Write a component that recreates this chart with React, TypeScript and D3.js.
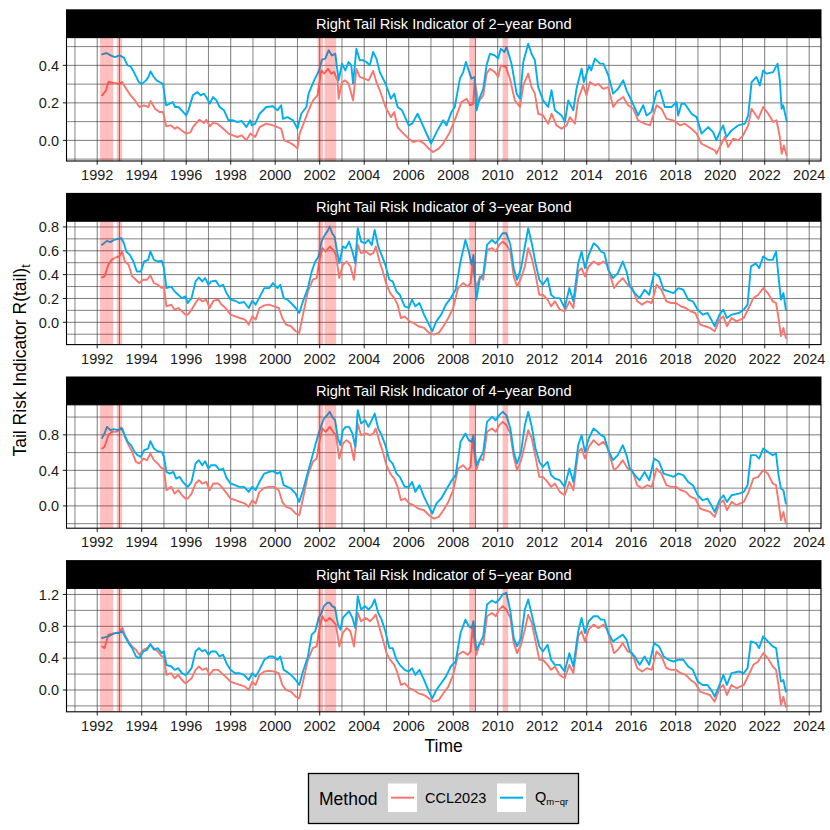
import React from "react";
import * as d3 from "d3";

// ---------------- data ----------------
const panelTitles = [
  "Right Tail Risk Indicator of 2−year Bond",
  "Right Tail Risk Indicator of 3−year Bond",
  "Right Tail Risk Indicator of 4−year Bond",
  "Right Tail Risk Indicator of 5−year Bond",
];

const xMajorTicks = [1992, 1994, 1996, 1998, 2000, 2002, 2004, 2006, 2008, 2010, 2012, 2014, 2016, 2018, 2020, 2022, 2024];
const xMinorTicks = [1991, 1993, 1995, 1997, 1999, 2001, 2003, 2005, 2007, 2009, 2011, 2013, 2015, 2017, 2019, 2021, 2023];
const xDomain = [1990.62, 2024.53];

const yDomains = [
  [-0.11, 0.548],
  [-0.187, 0.848],
  [-0.251, 1.138],
  [-0.274, 1.276],
];
const yMajorTicks = [
  [0, 0.2, 0.4],
  [0, 0.2, 0.4, 0.6, 0.8],
  [0, 0.4, 0.8],
  [0, 0.4, 0.8, 1.2],
];
const yMinorTicks = [
  [-0.1, 0.1, 0.3, 0.5],
  [-0.1, 0.1, 0.3, 0.5, 0.7],
  [-0.2, 0.2, 0.6, 1.0],
  [-0.2, 0.2, 0.6, 1.0],
];

const shadedBands = [
  [1992.13, 1992.72],
  [1992.88, 1993.12],
  [2001.9, 2002.15],
  [2002.22, 2002.74],
  [2008.72, 2009.0],
  [2010.22, 2010.47],
];

const methodNames = ["CCL2023", "Qm−qr"];
const methodColors = ["#F8766D", "#00AEEF"];

// 2-year bond
const ccl2y = [[1992.22,0.24],[1992.4,0.267],[1992.5,0.311],[1992.7,0.307],[1992.98,0.302],[1993.12,0.311],[1993.3,0.275],[1993.5,0.24],[1993.7,0.213],[1993.9,0.178],[1994.1,0.187],[1994.3,0.178],[1994.4,0.21],[1994.6,0.169],[1994.8,0.151],[1994.96,0.151],[1995.1,0.075],[1995.3,0.08],[1995.5,0.062],[1995.6,0.071],[1995.8,0.053],[1996.0,0.036],[1996.2,0.044],[1996.3,0.071],[1996.5,0.098],[1996.6,0.11],[1996.8,0.093],[1996.9,0.11],[1997.06,0.075],[1997.2,0.093],[1997.4,0.089],[1997.67,0.062],[1997.9,0.036],[1998.1,0.027],[1998.3,0.018],[1998.5,0.027],[1998.7,0.0],[1998.88,0.036],[1999.1,0.018],[1999.3,0.071],[1999.6,0.089],[1999.9,0.08],[2000.1,0.071],[2000.27,0.062],[2000.4,0.0],[2000.6,-0.009],[2000.85,-0.027],[2001.0,-0.044],[2001.1,0.036],[2001.3,0.098],[2001.5,0.16],[2001.7,0.213],[2001.9,0.24],[2002.07,0.373],[2002.2,0.356],[2002.37,0.382],[2002.52,0.356],[2002.65,0.364],[2002.8,0.32],[2002.85,0.222],[2003.0,0.311],[2003.15,0.32],[2003.3,0.302],[2003.5,0.213],[2003.65,0.382],[2003.8,0.338],[2004.0,0.329],[2004.2,0.32],[2004.4,0.37],[2004.55,0.311],[2004.7,0.267],[2004.96,0.178],[2005.2,0.124],[2005.35,0.151],[2005.5,0.071],[2005.7,0.044],[2006.0,0.009],[2006.2,-0.009],[2006.45,0.0],[2006.7,-0.017],[2006.9,-0.044],[2007.1,-0.062],[2007.35,-0.044],[2007.55,-0.017],[2007.85,0.044],[2008.15,0.133],[2008.37,0.204],[2008.6,0.222],[2008.75,0.187],[2008.9,0.196],[2008.97,0.32],[2009.12,0.204],[2009.35,0.24],[2009.5,0.356],[2009.65,0.382],[2009.87,0.364],[2010.02,0.338],[2010.14,0.4],[2010.37,0.391],[2010.55,0.329],[2010.77,0.213],[2011.0,0.178],[2011.15,0.293],[2011.37,0.356],[2011.52,0.284],[2011.67,0.249],[2011.82,0.142],[2012.04,0.133],[2012.27,0.089],[2012.42,0.142],[2012.64,0.08],[2012.87,0.062],[2013.1,0.08],[2013.24,0.124],[2013.47,0.089],[2013.62,0.222],[2013.84,0.293],[2013.99,0.24],[2014.14,0.311],[2014.37,0.293],[2014.52,0.302],[2014.74,0.275],[2014.97,0.284],[2015.19,0.178],[2015.41,0.213],[2015.64,0.231],[2015.86,0.187],[2016.09,0.169],[2016.31,0.107],[2016.61,0.089],[2016.84,0.08],[2017.14,0.187],[2017.36,0.169],[2017.59,0.115],[2017.89,0.107],[2018.19,0.08],[2018.41,0.089],[2018.71,0.062],[2018.94,0.036],[2019.16,-0.018],[2019.46,-0.036],[2019.76,-0.053],[2019.83,-0.071],[2020.06,-0.018],[2020.21,0.018],[2020.36,-0.036],[2020.58,0.009],[2020.81,0.0],[2021.03,0.027],[2021.26,0.08],[2021.41,0.169],[2021.71,0.115],[2021.93,0.178],[2022.16,0.142],[2022.38,0.098],[2022.53,0.107],[2022.68,0.018],[2022.76,-0.071],[2022.86,-0.027],[2022.98,-0.08]];
const qmqr2y = [[1992.22,0.459],[1992.42,0.466],[1992.6,0.453],[1992.8,0.444],[1993.0,0.453],[1993.2,0.441],[1993.36,0.4],[1993.5,0.395],[1993.65,0.364],[1993.87,0.311],[1994.0,0.3],[1994.2,0.32],[1994.3,0.338],[1994.4,0.368],[1994.52,0.342],[1994.67,0.32],[1994.8,0.311],[1994.96,0.3],[1995.04,0.231],[1995.1,0.187],[1995.4,0.204],[1995.5,0.178],[1995.65,0.178],[1995.8,0.16],[1996.0,0.133],[1996.1,0.16],[1996.3,0.24],[1996.5,0.258],[1996.65,0.24],[1996.8,0.249],[1996.9,0.231],[1997.06,0.196],[1997.2,0.231],[1997.36,0.213],[1997.5,0.178],[1997.7,0.16],[1997.9,0.107],[1998.1,0.107],[1998.3,0.098],[1998.5,0.103],[1998.7,0.071],[1998.88,0.107],[1998.95,0.08],[1999.1,0.089],[1999.3,0.142],[1999.6,0.178],[1999.9,0.182],[2000.1,0.16],[2000.27,0.187],[2000.35,0.115],[2000.55,0.124],[2000.8,0.107],[2001.0,0.062],[2001.17,0.142],[2001.4,0.178],[2001.5,0.249],[2001.75,0.32],[2001.97,0.373],[2002.1,0.43],[2002.25,0.436],[2002.4,0.48],[2002.55,0.453],[2002.7,0.462],[2002.85,0.32],[2003.0,0.409],[2003.15,0.373],[2003.3,0.418],[2003.42,0.4],[2003.5,0.302],[2003.65,0.489],[2003.8,0.427],[2003.95,0.427],[2004.1,0.418],[2004.25,0.4],[2004.4,0.471],[2004.55,0.436],[2004.7,0.364],[2004.96,0.302],[2005.2,0.222],[2005.35,0.249],[2005.5,0.178],[2005.7,0.16],[2006.0,0.08],[2006.15,0.089],[2006.4,0.142],[2006.6,0.089],[2006.87,0.018],[2007.0,-0.017],[2007.25,0.044],[2007.55,0.107],[2007.7,0.08],[2007.92,0.151],[2008.07,0.178],[2008.3,0.329],[2008.45,0.364],[2008.57,0.418],[2008.72,0.364],[2008.82,0.329],[2008.97,0.338],[2009.05,0.16],[2009.2,0.231],[2009.35,0.275],[2009.5,0.4],[2009.65,0.462],[2009.87,0.453],[2010.02,0.436],[2010.14,0.489],[2010.3,0.471],[2010.4,0.498],[2010.62,0.409],[2010.85,0.249],[2011.0,0.222],[2011.15,0.418],[2011.37,0.515],[2011.52,0.462],[2011.67,0.427],[2011.82,0.284],[2012.04,0.213],[2012.27,0.178],[2012.42,0.267],[2012.57,0.16],[2012.87,0.133],[2013.02,0.098],[2013.17,0.213],[2013.4,0.16],[2013.54,0.275],[2013.77,0.382],[2013.87,0.311],[2014.11,0.4],[2014.2,0.373],[2014.37,0.436],[2014.6,0.409],[2014.75,0.409],[2014.97,0.347],[2015.19,0.249],[2015.41,0.275],[2015.64,0.32],[2015.79,0.267],[2016.01,0.213],[2016.31,0.133],[2016.54,0.187],[2016.69,0.133],[2016.91,0.151],[2017.14,0.258],[2017.29,0.267],[2017.51,0.178],[2017.81,0.178],[2018.04,0.204],[2018.11,0.133],[2018.26,0.195],[2018.41,0.195],[2018.71,0.142],[2018.94,0.124],[2019.16,0.036],[2019.46,0.071],[2019.68,0.044],[2019.83,0.0],[2019.98,0.044],[2020.13,0.08],[2020.28,0.018],[2020.51,0.053],[2020.81,0.08],[2021.11,0.089],[2021.26,0.133],[2021.41,0.311],[2021.63,0.338],[2021.78,0.293],[2021.93,0.373],[2022.08,0.356],[2022.38,0.364],[2022.58,0.409],[2022.68,0.32],[2022.76,0.169],[2022.83,0.187],[2022.98,0.107]];

// 3-year bond
const ccl3y = [[1992.22,0.376],[1992.33,0.385],[1992.5,0.482],[1992.65,0.524],[1992.83,0.544],[1992.98,0.552],[1993.13,0.594],[1993.24,0.51],[1993.41,0.482],[1993.57,0.385],[1993.74,0.357],[1993.89,0.329],[1994.07,0.357],[1994.24,0.357],[1994.39,0.393],[1994.55,0.329],[1994.72,0.315],[1994.9,0.287],[1995.0,0.3],[1995.11,0.134],[1995.33,0.148],[1995.48,0.106],[1995.64,0.12],[1995.81,0.092],[1995.96,0.064],[1996.07,0.064],[1996.24,0.106],[1996.42,0.162],[1996.57,0.203],[1996.72,0.176],[1996.9,0.19],[1997.05,0.12],[1997.22,0.181],[1997.44,0.19],[1997.59,0.148],[1997.77,0.12],[1997.99,0.064],[1998.2,0.05],[1998.42,0.036],[1998.64,0.022],[1998.81,-0.02],[1998.97,0.05],[1999.12,0.022],[1999.29,0.12],[1999.51,0.142],[1999.73,0.148],[1999.95,0.134],[2000.16,0.12],[2000.32,0.036],[2000.49,-0.02],[2000.71,-0.033],[2000.92,-0.075],[2001.08,-0.089],[2001.25,0.064],[2001.47,0.259],[2001.69,0.357],[2001.86,0.371],[2002.01,0.538],[2002.12,0.622],[2002.27,0.594],[2002.45,0.636],[2002.6,0.608],[2002.73,0.566],[2002.88,0.371],[2003.04,0.482],[2003.21,0.51],[2003.38,0.468],[2003.54,0.357],[2003.71,0.65],[2003.86,0.58],[2004.08,0.594],[2004.26,0.566],[2004.41,0.58],[2004.52,0.636],[2004.69,0.51],[2004.84,0.426],[2005.0,0.315],[2005.17,0.245],[2005.35,0.203],[2005.5,0.148],[2005.65,0.036],[2005.82,0.05],[2006.04,0.008],[2006.22,-0.006],[2006.43,-0.033],[2006.69,-0.047],[2006.91,-0.089],[2007.13,-0.103],[2007.35,-0.089],[2007.56,-0.033],[2007.78,0.036],[2008.0,0.12],[2008.22,0.287],[2008.44,0.329],[2008.65,0.3],[2008.78,0.329],[2008.87,0.482],[2009.04,0.287],[2009.2,0.385],[2009.35,0.357],[2009.52,0.608],[2009.74,0.622],[2009.91,0.594],[2010.07,0.65],[2010.22,0.677],[2010.39,0.65],[2010.57,0.594],[2010.72,0.385],[2010.87,0.3],[2011.05,0.371],[2011.22,0.468],[2011.37,0.622],[2011.53,0.538],[2011.7,0.399],[2011.87,0.231],[2012.03,0.231],[2012.24,0.19],[2012.4,0.134],[2012.57,0.176],[2012.79,0.106],[2013.01,0.092],[2013.22,0.176],[2013.4,0.12],[2013.62,0.426],[2013.77,0.454],[2013.92,0.385],[2014.09,0.468],[2014.31,0.51],[2014.53,0.482],[2014.75,0.51],[2014.92,0.482],[2015.07,0.385],[2015.23,0.287],[2015.4,0.329],[2015.62,0.371],[2015.84,0.315],[2016.05,0.287],[2016.27,0.176],[2016.49,0.148],[2016.71,0.176],[2016.92,0.162],[2017.14,0.315],[2017.36,0.273],[2017.58,0.176],[2017.79,0.162],[2018.01,0.162],[2018.23,0.134],[2018.45,0.12],[2018.67,0.092],[2018.88,0.078],[2019.1,-0.02],[2019.32,-0.033],[2019.54,-0.047],[2019.75,-0.075],[2019.97,0.022],[2020.14,0.05],[2020.3,-0.033],[2020.51,0.036],[2020.73,0.008],[2021.06,0.036],[2021.28,0.12],[2021.49,0.203],[2021.71,0.231],[2021.93,0.287],[2022.14,0.245],[2022.36,0.176],[2022.51,0.162],[2022.62,0.036],[2022.73,-0.117],[2022.84,-0.047],[2022.95,-0.131]];
const qmqr3y = [[1992.22,0.65],[1992.44,0.683],[1992.59,0.672],[1992.76,0.691],[1992.94,0.7],[1993.09,0.705],[1993.2,0.663],[1993.31,0.594],[1993.46,0.566],[1993.63,0.51],[1993.78,0.426],[1993.96,0.426],[1994.11,0.51],[1994.29,0.524],[1994.39,0.594],[1994.55,0.524],[1994.72,0.51],[1994.9,0.516],[1995.0,0.454],[1995.11,0.287],[1995.33,0.3],[1995.48,0.259],[1995.64,0.231],[1995.81,0.203],[1995.96,0.217],[1996.07,0.162],[1996.24,0.203],[1996.42,0.343],[1996.57,0.376],[1996.72,0.343],[1996.85,0.371],[1997.0,0.315],[1997.12,0.343],[1997.33,0.348],[1997.5,0.3],[1997.66,0.315],[1997.81,0.245],[1997.99,0.19],[1998.2,0.181],[1998.38,0.162],[1998.6,0.17],[1998.81,0.12],[1998.97,0.181],[1999.12,0.148],[1999.29,0.209],[1999.51,0.287],[1999.73,0.287],[1999.9,0.329],[2000.1,0.287],[2000.23,0.315],[2000.38,0.203],[2000.55,0.19],[2000.71,0.162],[2000.92,0.12],[2001.08,0.078],[2001.25,0.176],[2001.47,0.287],[2001.64,0.426],[2001.8,0.51],[2001.95,0.552],[2002.08,0.677],[2002.19,0.719],[2002.34,0.761],[2002.45,0.803],[2002.56,0.747],[2002.67,0.719],[2002.78,0.594],[2002.88,0.496],[2003.04,0.636],[2003.17,0.622],[2003.32,0.677],[2003.47,0.594],[2003.6,0.496],[2003.71,0.789],[2003.86,0.677],[2004.04,0.663],[2004.19,0.691],[2004.34,0.649],[2004.47,0.775],[2004.63,0.636],[2004.78,0.566],[2004.95,0.482],[2005.13,0.357],[2005.28,0.343],[2005.45,0.259],[2005.6,0.231],[2005.82,0.134],[2006.0,0.12],[2006.15,0.19],[2006.3,0.134],[2006.48,0.162],[2006.69,0.064],[2006.91,-0.02],[2007.06,-0.075],[2007.24,0.008],[2007.46,0.064],[2007.67,0.148],[2007.89,0.203],[2008.11,0.273],[2008.33,0.51],[2008.55,0.691],[2008.7,0.594],[2008.83,0.482],[2008.91,0.566],[2009.04,0.19],[2009.2,0.371],[2009.35,0.399],[2009.52,0.65],[2009.74,0.691],[2009.91,0.663],[2010.07,0.705],[2010.22,0.747],[2010.39,0.747],[2010.57,0.65],[2010.72,0.454],[2010.87,0.357],[2011.05,0.454],[2011.22,0.636],[2011.37,0.789],[2011.53,0.663],[2011.7,0.496],[2011.87,0.357],[2012.03,0.315],[2012.24,0.371],[2012.4,0.231],[2012.57,0.203],[2012.79,0.203],[2013.01,0.12],[2013.22,0.287],[2013.4,0.176],[2013.62,0.496],[2013.77,0.594],[2013.92,0.454],[2014.09,0.566],[2014.31,0.663],[2014.49,0.636],[2014.64,0.594],[2014.79,0.58],[2014.97,0.44],[2015.18,0.371],[2015.4,0.413],[2015.62,0.51],[2015.79,0.426],[2015.94,0.3],[2016.16,0.245],[2016.38,0.203],[2016.6,0.273],[2016.81,0.231],[2017.03,0.413],[2017.25,0.385],[2017.46,0.273],[2017.68,0.259],[2017.9,0.245],[2018.12,0.287],[2018.34,0.273],[2018.56,0.19],[2018.77,0.176],[2018.99,0.106],[2019.21,0.064],[2019.43,0.078],[2019.64,0.008],[2019.75,-0.033],[2019.97,0.064],[2020.14,0.106],[2020.3,0.036],[2020.51,0.064],[2020.84,0.078],[2021.06,0.106],[2021.23,0.148],[2021.38,0.468],[2021.6,0.496],[2021.75,0.454],[2021.93,0.552],[2022.14,0.524],[2022.36,0.524],[2022.51,0.594],[2022.62,0.385],[2022.73,0.19],[2022.84,0.245],[2022.95,0.106]];

// 4-year bond
const ccl4y = [[1992.22,0.646],[1992.33,0.665],[1992.5,0.796],[1992.65,0.834],[1992.83,0.834],[1992.98,0.853],[1993.13,0.871],[1993.24,0.777],[1993.41,0.684],[1993.57,0.608],[1993.74,0.496],[1993.89,0.477],[1994.07,0.533],[1994.24,0.515],[1994.39,0.59],[1994.55,0.515],[1994.72,0.477],[1994.9,0.421],[1995.0,0.421],[1995.11,0.177],[1995.33,0.214],[1995.48,0.139],[1995.64,0.177],[1995.81,0.12],[1995.96,0.083],[1996.07,0.083],[1996.24,0.139],[1996.42,0.252],[1996.57,0.289],[1996.72,0.252],[1996.9,0.27],[1997.05,0.177],[1997.22,0.252],[1997.44,0.252],[1997.59,0.214],[1997.77,0.158],[1997.99,0.083],[1998.2,0.064],[1998.42,0.045],[1998.64,0.026],[1998.81,-0.011],[1998.97,0.064],[1999.12,0.026],[1999.29,0.158],[1999.51,0.203],[1999.73,0.214],[1999.95,0.214],[2000.16,0.177],[2000.32,0.045],[2000.49,-0.011],[2000.71,-0.03],[2000.92,-0.086],[2001.08,-0.105],[2001.25,0.083],[2001.47,0.346],[2001.69,0.496],[2001.86,0.533],[2002.01,0.759],[2002.12,0.871],[2002.27,0.834],[2002.45,0.89],[2002.6,0.834],[2002.73,0.796],[2002.88,0.533],[2003.04,0.702],[2003.21,0.74],[2003.38,0.702],[2003.54,0.515],[2003.71,0.928],[2003.86,0.796],[2004.08,0.815],[2004.26,0.796],[2004.41,0.815],[2004.52,0.871],[2004.69,0.721],[2004.84,0.608],[2005.0,0.458],[2005.17,0.364],[2005.35,0.308],[2005.5,0.214],[2005.65,0.064],[2005.82,0.083],[2006.04,0.026],[2006.22,0.008],[2006.43,-0.03],[2006.69,-0.049],[2006.91,-0.105],[2007.13,-0.143],[2007.35,-0.124],[2007.56,-0.049],[2007.78,0.045],[2008.0,0.177],[2008.22,0.421],[2008.44,0.458],[2008.65,0.402],[2008.78,0.439],[2008.87,0.759],[2009.04,0.402],[2009.2,0.533],[2009.35,0.515],[2009.52,0.834],[2009.74,0.871],[2009.91,0.834],[2010.07,0.909],[2010.22,0.946],[2010.39,0.909],[2010.57,0.815],[2010.72,0.552],[2010.87,0.402],[2011.05,0.515],[2011.22,0.684],[2011.37,0.853],[2011.53,0.759],[2011.7,0.552],[2011.87,0.327],[2012.03,0.327],[2012.24,0.27],[2012.4,0.214],[2012.57,0.252],[2012.79,0.158],[2013.01,0.12],[2013.22,0.27],[2013.4,0.177],[2013.62,0.608],[2013.77,0.646],[2013.92,0.533],[2014.09,0.665],[2014.31,0.74],[2014.53,0.684],[2014.75,0.721],[2014.92,0.665],[2015.07,0.533],[2015.23,0.402],[2015.4,0.439],[2015.62,0.515],[2015.84,0.421],[2016.05,0.402],[2016.27,0.233],[2016.49,0.195],[2016.71,0.233],[2016.92,0.214],[2017.14,0.421],[2017.36,0.364],[2017.58,0.233],[2017.79,0.214],[2018.01,0.214],[2018.23,0.177],[2018.45,0.158],[2018.67,0.101],[2018.88,0.083],[2019.1,-0.03],[2019.32,-0.049],[2019.54,-0.068],[2019.75,-0.124],[2019.97,0.026],[2020.14,0.064],[2020.3,-0.049],[2020.51,0.045],[2020.73,0.008],[2021.06,0.045],[2021.28,0.158],[2021.49,0.308],[2021.71,0.327],[2021.93,0.402],[2022.14,0.364],[2022.36,0.252],[2022.51,0.233],[2022.62,0.045],[2022.73,-0.162],[2022.84,-0.068],[2022.95,-0.199]];
const qmqr4y = [[1992.22,0.766],[1992.33,0.815],[1992.44,0.89],[1992.59,0.853],[1992.76,0.864],[1992.94,0.853],[1993.09,0.879],[1993.24,0.796],[1993.37,0.721],[1993.52,0.684],[1993.68,0.608],[1993.81,0.571],[1993.96,0.552],[1994.11,0.627],[1994.29,0.646],[1994.39,0.729],[1994.55,0.646],[1994.72,0.616],[1994.9,0.608],[1995.0,0.552],[1995.11,0.383],[1995.26,0.364],[1995.42,0.383],[1995.55,0.308],[1995.7,0.327],[1995.85,0.27],[1995.98,0.233],[1996.07,0.214],[1996.24,0.27],[1996.42,0.477],[1996.57,0.515],[1996.72,0.458],[1996.85,0.503],[1997.0,0.421],[1997.12,0.458],[1997.33,0.458],[1997.5,0.402],[1997.66,0.421],[1997.81,0.315],[1997.99,0.252],[1998.2,0.233],[1998.38,0.214],[1998.6,0.214],[1998.81,0.158],[1998.97,0.214],[1999.12,0.177],[1999.29,0.27],[1999.51,0.364],[1999.73,0.383],[1999.9,0.391],[2000.1,0.364],[2000.23,0.383],[2000.38,0.233],[2000.55,0.214],[2000.71,0.195],[2000.92,0.139],[2001.08,0.045],[2001.25,0.177],[2001.47,0.383],[2001.64,0.533],[2001.8,0.684],[2001.95,0.815],[2002.08,0.909],[2002.19,0.984],[2002.34,1.022],[2002.45,1.059],[2002.56,1.003],[2002.69,0.965],[2002.82,0.759],[2002.93,0.684],[2003.04,0.853],[2003.17,0.89],[2003.32,0.89],[2003.47,0.815],[2003.6,0.665],[2003.71,1.078],[2003.86,0.928],[2004.04,0.965],[2004.19,0.89],[2004.34,0.965],[2004.47,1.04],[2004.63,0.871],[2004.78,0.796],[2004.95,0.684],[2005.13,0.515],[2005.28,0.477],[2005.45,0.364],[2005.6,0.327],[2005.82,0.214],[2006.0,0.214],[2006.15,0.27],[2006.3,0.158],[2006.48,0.233],[2006.69,0.101],[2006.91,-0.011],[2007.06,-0.086],[2007.24,0.026],[2007.46,0.083],[2007.67,0.177],[2007.89,0.27],[2008.11,0.346],[2008.33,0.721],[2008.55,0.815],[2008.7,0.74],[2008.83,0.721],[2008.91,0.796],[2009.04,0.458],[2009.2,0.533],[2009.35,0.608],[2009.52,0.946],[2009.74,1.003],[2009.91,0.965],[2010.07,1.022],[2010.22,1.059],[2010.39,1.022],[2010.57,0.871],[2010.72,0.608],[2010.87,0.477],[2011.05,0.608],[2011.22,0.909],[2011.37,1.059],[2011.53,0.89],[2011.7,0.646],[2011.87,0.496],[2012.03,0.439],[2012.24,0.496],[2012.4,0.346],[2012.57,0.308],[2012.79,0.289],[2013.01,0.214],[2013.22,0.421],[2013.4,0.27],[2013.62,0.684],[2013.77,0.796],[2013.92,0.608],[2014.09,0.759],[2014.31,0.871],[2014.49,0.834],[2014.64,0.796],[2014.79,0.777],[2014.97,0.627],[2015.18,0.515],[2015.4,0.571],[2015.62,0.684],[2015.79,0.571],[2015.94,0.421],[2016.16,0.346],[2016.38,0.289],[2016.6,0.383],[2016.81,0.289],[2017.03,0.533],[2017.25,0.496],[2017.46,0.364],[2017.68,0.346],[2017.9,0.327],[2018.12,0.364],[2018.34,0.346],[2018.56,0.27],[2018.77,0.233],[2018.99,0.12],[2019.21,0.064],[2019.43,0.083],[2019.64,-0.011],[2019.75,-0.068],[2019.97,0.064],[2020.14,0.12],[2020.3,0.045],[2020.51,0.12],[2020.84,0.139],[2021.06,0.158],[2021.23,0.233],[2021.38,0.571],[2021.6,0.571],[2021.75,0.533],[2021.93,0.646],[2022.14,0.608],[2022.36,0.571],[2022.51,0.59],[2022.62,0.346],[2022.73,0.195],[2022.84,0.177],[2022.95,0.026]];

// 5-year bond
const ccl5y = [[1992.22,0.547],[1992.33,0.526],[1992.5,0.695],[1992.65,0.703],[1992.83,0.716],[1992.98,0.724],[1993.13,0.779],[1993.24,0.695],[1993.41,0.611],[1993.57,0.547],[1993.74,0.505],[1993.89,0.442],[1994.07,0.505],[1994.24,0.526],[1994.39,0.568],[1994.55,0.526],[1994.72,0.484],[1994.9,0.421],[1995.0,0.421],[1995.11,0.189],[1995.33,0.211],[1995.48,0.147],[1995.64,0.189],[1995.81,0.126],[1995.96,0.084],[1996.07,0.105],[1996.24,0.147],[1996.42,0.253],[1996.57,0.295],[1996.72,0.253],[1996.9,0.274],[1997.05,0.189],[1997.22,0.253],[1997.44,0.253],[1997.59,0.211],[1997.77,0.168],[1997.99,0.105],[1998.2,0.084],[1998.42,0.063],[1998.64,0.042],[1998.81,0.0],[1998.97,0.105],[1999.12,0.063],[1999.29,0.189],[1999.51,0.232],[1999.73,0.24],[1999.95,0.232],[2000.16,0.211],[2000.32,0.063],[2000.49,0.0],[2000.71,-0.021],[2000.92,-0.084],[2001.08,-0.105],[2001.25,0.105],[2001.47,0.379],[2001.69,0.526],[2001.86,0.547],[2002.01,0.8],[2002.12,0.926],[2002.27,0.863],[2002.45,0.905],[2002.6,0.863],[2002.73,0.821],[2002.88,0.547],[2003.04,0.716],[2003.21,0.779],[2003.38,0.737],[2003.54,0.547],[2003.71,0.968],[2003.86,0.863],[2004.08,0.905],[2004.26,0.863],[2004.41,0.905],[2004.52,0.947],[2004.69,0.779],[2004.84,0.632],[2005.0,0.463],[2005.17,0.379],[2005.35,0.316],[2005.5,0.211],[2005.65,0.063],[2005.82,0.084],[2006.04,0.021],[2006.22,0.0],[2006.43,-0.042],[2006.69,-0.063],[2006.91,-0.105],[2007.13,-0.147],[2007.35,-0.126],[2007.56,-0.042],[2007.78,0.042],[2008.0,0.189],[2008.22,0.442],[2008.44,0.484],[2008.65,0.442],[2008.78,0.484],[2008.87,0.779],[2009.04,0.442],[2009.2,0.589],[2009.35,0.568],[2009.52,0.926],[2009.74,0.968],[2009.91,0.926],[2010.07,1.011],[2010.22,1.053],[2010.39,1.011],[2010.57,0.905],[2010.72,0.589],[2010.87,0.463],[2011.05,0.568],[2011.22,0.758],[2011.37,0.947],[2011.53,0.842],[2011.7,0.611],[2011.87,0.379],[2012.03,0.379],[2012.24,0.316],[2012.4,0.253],[2012.57,0.295],[2012.79,0.189],[2013.01,0.147],[2013.22,0.316],[2013.4,0.211],[2013.62,0.674],[2013.77,0.737],[2013.92,0.611],[2014.09,0.758],[2014.31,0.821],[2014.53,0.779],[2014.75,0.821],[2014.92,0.758],[2015.07,0.611],[2015.23,0.463],[2015.4,0.505],[2015.62,0.589],[2015.84,0.484],[2016.05,0.463],[2016.27,0.274],[2016.49,0.232],[2016.71,0.274],[2016.92,0.253],[2017.14,0.484],[2017.36,0.421],[2017.58,0.274],[2017.79,0.253],[2018.01,0.253],[2018.23,0.211],[2018.45,0.189],[2018.67,0.126],[2018.88,0.084],[2019.1,-0.021],[2019.32,-0.042],[2019.54,-0.063],[2019.75,-0.147],[2019.97,0.021],[2020.14,0.063],[2020.3,-0.063],[2020.51,0.063],[2020.73,0.021],[2021.06,0.063],[2021.28,0.189],[2021.49,0.316],[2021.71,0.358],[2021.93,0.463],[2022.14,0.4],[2022.36,0.295],[2022.51,0.253],[2022.62,0.063],[2022.73,-0.189],[2022.84,-0.084],[2022.95,-0.211]];
const qmqr5y = [[1992.22,0.653],[1992.33,0.661],[1992.5,0.674],[1992.65,0.695],[1992.83,0.716],[1992.98,0.716],[1993.13,0.737],[1993.24,0.674],[1993.41,0.589],[1993.57,0.526],[1993.74,0.421],[1993.89,0.4],[1994.07,0.484],[1994.24,0.505],[1994.39,0.577],[1994.55,0.505],[1994.72,0.526],[1994.9,0.463],[1995.0,0.484],[1995.11,0.316],[1995.33,0.295],[1995.48,0.253],[1995.64,0.274],[1995.81,0.211],[1995.96,0.189],[1996.07,0.211],[1996.24,0.274],[1996.42,0.484],[1996.57,0.526],[1996.72,0.484],[1996.85,0.505],[1997.0,0.442],[1997.12,0.484],[1997.33,0.484],[1997.5,0.421],[1997.66,0.442],[1997.81,0.337],[1997.99,0.253],[1998.2,0.211],[1998.38,0.211],[1998.6,0.189],[1998.81,0.126],[1998.97,0.211],[1999.12,0.168],[1999.29,0.253],[1999.51,0.379],[1999.73,0.421],[1999.9,0.421],[2000.1,0.379],[2000.23,0.421],[2000.38,0.253],[2000.55,0.223],[2000.71,0.189],[2000.92,0.126],[2001.08,0.063],[2001.25,0.232],[2001.47,0.421],[2001.64,0.695],[2001.8,0.737],[2001.95,0.905],[2002.08,0.968],[2002.19,1.053],[2002.34,1.095],[2002.45,1.095],[2002.56,1.053],[2002.69,1.032],[2002.82,0.821],[2002.93,0.758],[2003.04,0.905],[2003.17,0.947],[2003.32,0.989],[2003.47,0.905],[2003.6,0.779],[2003.71,1.179],[2003.86,1.011],[2004.04,1.053],[2004.19,1.011],[2004.34,1.053],[2004.47,1.137],[2004.63,0.968],[2004.78,0.884],[2004.95,0.737],[2005.13,0.526],[2005.28,0.526],[2005.45,0.379],[2005.6,0.316],[2005.82,0.253],[2006.0,0.232],[2006.15,0.274],[2006.3,0.189],[2006.48,0.253],[2006.69,0.126],[2006.91,-0.021],[2007.06,-0.105],[2007.24,0.0],[2007.46,0.084],[2007.67,0.168],[2007.89,0.295],[2008.11,0.358],[2008.33,0.716],[2008.55,0.884],[2008.7,0.8],[2008.83,0.779],[2008.91,0.863],[2009.04,0.505],[2009.2,0.589],[2009.35,0.674],[2009.52,1.074],[2009.74,1.124],[2009.91,1.095],[2010.07,1.137],[2010.22,1.2],[2010.39,1.221],[2010.57,0.989],[2010.72,0.653],[2010.87,0.547],[2011.05,0.653],[2011.22,1.011],[2011.37,1.137],[2011.53,0.947],[2011.7,0.737],[2011.87,0.547],[2012.03,0.484],[2012.24,0.568],[2012.4,0.379],[2012.57,0.316],[2012.79,0.316],[2013.01,0.232],[2013.22,0.463],[2013.4,0.295],[2013.62,0.737],[2013.77,0.905],[2013.92,0.716],[2014.09,0.863],[2014.31,0.926],[2014.49,0.926],[2014.64,0.884],[2014.79,0.884],[2014.97,0.716],[2015.18,0.611],[2015.4,0.653],[2015.62,0.695],[2015.79,0.632],[2015.94,0.484],[2016.16,0.421],[2016.38,0.316],[2016.6,0.421],[2016.81,0.316],[2017.03,0.589],[2017.25,0.547],[2017.46,0.421],[2017.68,0.379],[2017.9,0.358],[2018.12,0.379],[2018.34,0.379],[2018.56,0.295],[2018.77,0.253],[2018.99,0.105],[2019.21,0.063],[2019.43,0.063],[2019.64,-0.021],[2019.75,-0.084],[2019.97,0.063],[2020.14,0.189],[2020.3,0.063],[2020.51,0.211],[2020.84,0.232],[2021.06,0.211],[2021.23,0.274],[2021.38,0.611],[2021.6,0.589],[2021.75,0.526],[2021.93,0.674],[2022.14,0.611],[2022.36,0.547],[2022.51,0.526],[2022.62,0.316],[2022.73,0.105],[2022.84,0.126],[2022.95,-0.021]];

const panelSeries = [
  [ccl2y, qmqr2y],
  [ccl3y, qmqr3y],
  [ccl4y, qmqr4y],
  [ccl5y, qmqr5y],
];

// ---------------- layout ----------------
const W = 830;
const H = 830;
const FONT = "'Liberation Sans', Arial, Helvetica, sans-serif";
const panelLeft = 66.5;
const panelRight = 821;
const firstStripTop = 9.3;
const facetStep = 183.6;
const stripH = 28.3;
const panelH = 123.4;

const fmt = d3.format(".1f");

function Panel({ index }: { index: number }) {
  const stripTop = firstStripTop + index * facetStep;
  const top = stripTop + stripH;
  const bottom = top + panelH;
  const x = d3.scaleLinear().domain(xDomain).range([panelLeft, panelRight]);
  const y = d3.scaleLinear().domain(yDomains[index]).range([bottom, top]);
  const line = d3
    .line<number[]>()
    .x((d) => x(d[0]))
    .y((d) => y(d[1]));
  const gridColor = "#333";
  const clipId = `clip-${index}`;
  return (
    <g>
      <defs>
        <clipPath id={clipId}>
          <rect x={panelLeft} y={top} width={panelRight - panelLeft} height={panelH} />
        </clipPath>
      </defs>
      <rect x={panelLeft} y={top} width={panelRight - panelLeft} height={panelH} fill="#fff" />
      <g clipPath={`url(#${clipId})`}>
        {yMinorTicks[index].map((v) => (
          <line key={`ym${v}`} x1={panelLeft} x2={panelRight} y1={y(v)} y2={y(v)} stroke={gridColor} strokeWidth={0.6} />
        ))}
        {yMajorTicks[index].map((v) => (
          <line key={`yM${v}`} x1={panelLeft} x2={panelRight} y1={y(v)} y2={y(v)} stroke={gridColor} strokeWidth={0.65} />
        ))}
        {xMinorTicks.map((v) => (
          <line key={`xm${v}`} x1={x(v)} x2={x(v)} y1={top} y2={bottom} stroke={gridColor} strokeWidth={0.6} />
        ))}
        {xMajorTicks.map((v) => (
          <line key={`xM${v}`} x1={x(v)} x2={x(v)} y1={top} y2={bottom} stroke={gridColor} strokeWidth={0.65} />
        ))}
        {panelSeries[index].map((s, k) => (
          <path
            key={`s${k}`}
            d={line(s) || ""}
            fill="none"
            stroke={methodColors[k]}
            strokeWidth={1.9}
            strokeLinejoin="round"
            strokeLinecap="round"
          />
        ))}
        {shadedBands.map((b, k) => (
          <rect key={`b${k}`} x={x(b[0])} y={top} width={x(b[1]) - x(b[0])} height={panelH} fill="#ff0000" fillOpacity={0.25} />
        ))}
      </g>
      <rect x={panelLeft} y={top} width={panelRight - panelLeft} height={panelH} fill="none" stroke="#000" strokeWidth={1.1} />
      {/* strip */}
      <rect x={panelLeft - 0.5} y={stripTop} width={panelRight - panelLeft + 1} height={stripH} fill="#000" />
      <text
        x={(panelLeft + panelRight) / 2}
        y={stripTop + stripH / 2}
        dy="0.36em"
        textAnchor="middle"
        fill="#fff"
        fontSize={14.6}
        fontFamily={FONT}
      >
        {panelTitles[index]}
      </text>
      {/* x axis */}
      {xMajorTicks.map((v) => (
        <g key={`xt${v}`}>
          <line x1={x(v)} x2={x(v)} y1={bottom} y2={bottom + 3.7} stroke="#000" strokeWidth={0.9} />
          <text x={x(v)} y={bottom + 19} textAnchor="middle" fontSize={14.5} fontFamily={FONT} fill="#1a1a1a">
            {v}
          </text>
        </g>
      ))}
      {/* y axis */}
      {yMajorTicks[index].map((v) => (
        <g key={`yt${v}`}>
          <line x1={panelLeft - 3.7} x2={panelLeft} y1={y(v)} y2={y(v)} stroke="#000" strokeWidth={0.9} />
          <text x={panelLeft - 7.5} y={y(v)} dy="0.36em" textAnchor="end" fontSize={14.5} fontFamily={FONT} fill="#1a1a1a">
            {fmt(v)}
          </text>
        </g>
      ))}
    </g>
  );
}

export default function App() {
  const legendX = 308.5;
  const legendY = 773.5;
  return (
    <svg
      width={W}
      height={H}
      viewBox={`0 0 ${W} ${H}`}
      style={{ position: "absolute", left: 0, top: 0, background: "#fff" }}
    >
      <rect x={0} y={0} width={W} height={H} fill="#fff" />
      {panelTitles.map((_, i) => (
        <Panel key={i} index={i} />
      ))}
      {/* axis titles */}
      <text x={443.7} y={752} textAnchor="middle" fontSize={17.5} fontFamily={FONT} fill="#000">
        Time
      </text>
      <text
        transform={`translate(26,360.5) rotate(-90)`}
        textAnchor="middle"
        fontSize={17.5}
        fontFamily={FONT}
        fill="#000"
      >
        Tail Risk Indicator R(tail)
        <tspan fontSize={12} dy={4}>t</tspan>
      </text>
      {/* legend */}
      <rect x={legendX} y={legendY} width={270} height={50} fill="#cfcfcf" stroke="#000" strokeWidth={1.3} />
      <text x={319} y={804.5} fontSize={17.5} fontFamily={FONT} fill="#000">
        Method
      </text>
      <rect x={388} y={783.5} width={29} height={28.5} fill="#fff" />
      <line x1={391} x2={414} y1={797.7} y2={797.7} stroke={methodColors[0]} strokeWidth={2} />
      <text x={425} y={803} fontSize={14.5} fontFamily={FONT} fill="#000">
        {methodNames[0]}
      </text>
      <rect x={497} y={783.5} width={29} height={28.5} fill="#fff" />
      <line x1={500} x2={523} y1={797.7} y2={797.7} stroke={methodColors[1]} strokeWidth={2} />
      <text x={535} y={802} fontSize={14.5} fontFamily={FONT} fill="#000">
        Q<tspan fontSize={9.5} dy={3}>m−qr</tspan>
      </text>
    </svg>
  );
}
